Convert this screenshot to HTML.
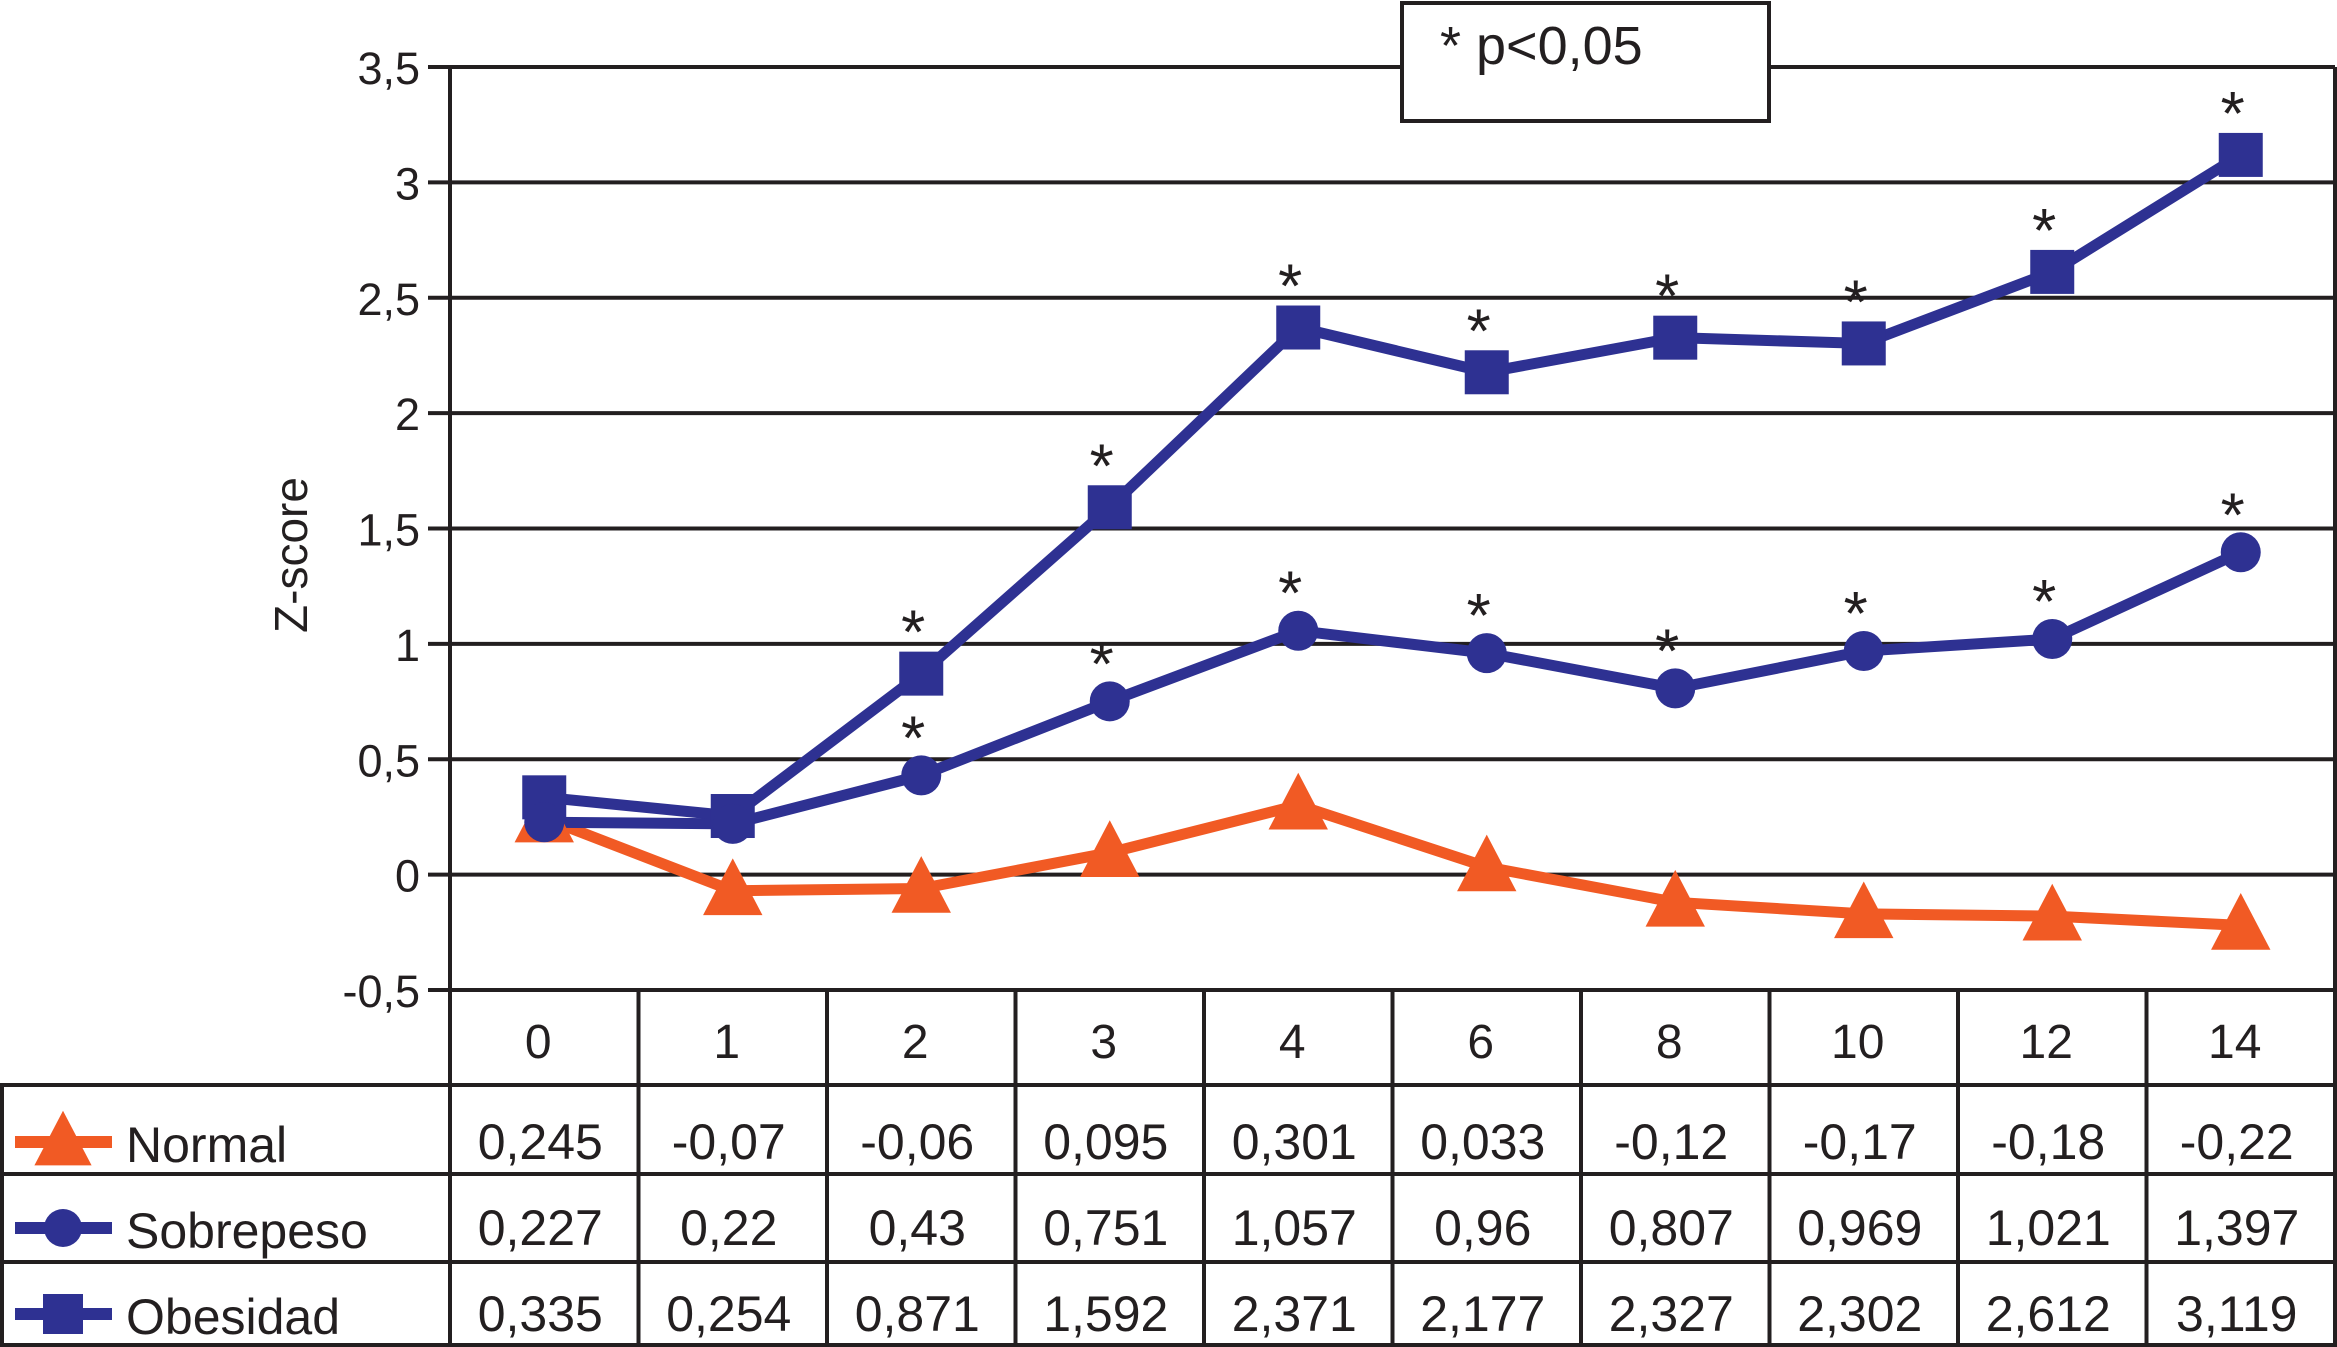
<!DOCTYPE html>
<html><head><meta charset="utf-8"><style>
html,body{margin:0;padding:0;background:#fff;}
svg{display:block;font-family:"Liberation Sans",sans-serif;}
</style></head><body>
<svg id="chart" width="2337" height="1347" viewBox="0 0 2337 1347"></svg>
<script>
const categories = ["0","1","2","3","4","6","8","10","12","14"];
const normalVals = [0.245,-0.07,-0.06,0.095,0.301,0.033,-0.12,-0.17,-0.18,-0.22];
const sobreVals = [0.227,0.22,0.43,0.751,1.057,0.96,0.807,0.969,1.021,1.397];
const obesVals = [0.335,0.254,0.871,1.592,2.371,2.177,2.327,2.302,2.612,3.119];
const normalLabels = ["0,245","-0,07","-0,06","0,095","0,301","0,033","-0,12","-0,17","-0,18","-0,22"];
const sobreLabels = ["0,227","0,22","0,43","0,751","1,057","0,96","0,807","0,969","1,021","1,397"];
const obesLabels = ["0,335","0,254","0,871","1,592","2,371","2,177","2,327","2,302","2,612","3,119"];
const sobreSig = [false,false,true,true,true,true,true,true,true,true];
const obesSig = [false,false,true,true,true,true,true,true,true,true];
const yTicks = [3.5,3,2.5,2,1.5,1,0.5,0,-0.5];
const yTickLabels = ["3,5","3","2,5","2","1,5","1","0,5","0","-0,5"];

const NS="http://www.w3.org/2000/svg";
const svg=document.getElementById('chart');
const X0=450, X1=2335, Y0=67, Y1=990;
const colW=(X1-X0)/categories.length;
function xPos(i){return X0+colW*(i+0.5);}
function yPos(v){return Y0+(3.5-v)/4*(Y1-Y0);}
function mk(tag,attrs,parent){const e=document.createElementNS(NS,tag);for(const k in attrs)e.setAttribute(k,attrs[k]);(parent||svg).appendChild(e);return e;}
const BLUE="#2e3192", ORANGE="#f15a24", K="#231f20";

yTicks.forEach((t,i)=>{
  const y=yPos(t);
  const g=mk('line',{x1:X0-22,x2:X1,y1:y,y2:y,stroke:K,'stroke-width':4});
  
  
  const tx=mk('text',{x:X0-30,y:y+17,'font-size':45,'text-anchor':'end',fill:K});
  tx.textContent=yTickLabels[i];
  
  
});
const ax=mk('line',{x1:X0,x2:X0,y1:Y0,y2:Y1,stroke:K,'stroke-width':4});


const ax2=mk('line',{x1:X1,x2:X1,y1:Y0,y2:1347,stroke:K,'stroke-width':4});



const yt=mk('text',{x:0,y:0,'font-size':46,'text-anchor':'middle',fill:K,transform:'translate(307,555) rotate(-90)'});
yt.textContent='Z-score';



const pb=mk('rect',{x:1402,y:3,width:367,height:118,fill:'#fff',stroke:K,'stroke-width':4});


const pt=mk('text',{x:1440,y:64,'font-size':54,fill:K});
pt.textContent='* p<0,05';



const rowsY=[990,1085,1174,1262,1345];
for(let r=1;r<rowsY.length;r++){
  const l=mk('line',{x1:0,x2:X1,y1:rowsY[r],y2:rowsY[r],stroke:K,'stroke-width':4});
  
  
}
const lb=mk('line',{x1:2,x2:2,y1:1085,y2:1347,stroke:K,'stroke-width':4});


for(let i=0;i<=categories.length;i++){
  const x=X0+colW*i;
  const l=mk('line',{x1:x,x2:x,y1:990,y2:1347,stroke:K,'stroke-width':4});
  
  
}
categories.forEach((c,i)=>{
  const t=mk('text',{x:xPos(i)-6,y:1058,'font-size':48,'text-anchor':'middle',fill:K});
  t.textContent=c;
  
  
});
const rowLabels=[normalLabels,sobreLabels,obesLabels];
const rowBase=[1159,1245,1331];
rowLabels.forEach((arr,r)=>{
  arr.forEach((s,i)=>{
    const t=mk('text',{x:xPos(i)-4,y:rowBase[r],'font-size':50,'text-anchor':'middle',fill:K});
    t.textContent=s;
    
    
  });
});

function triangle(cx,cy,s,parent){return mk('polygon',{points:`${cx},${cy-s*0.6} ${cx+s*0.55},${cy+s*0.45} ${cx-s*0.55},${cy+s*0.45}`,fill:ORANGE},parent);}
const names=["Normal","Sobrepeso","Obesidad"];
const legY=[1142,1228,1314];
names.forEach((n,r)=>{
  const g=mk('g',{});
  
  
  const col=r===0?ORANGE:BLUE;
  mk('line',{x1:15,x2:112,y1:legY[r],y2:legY[r],stroke:col,'stroke-width':12},g);
  if(r===0) triangle(63,legY[r],52,g);
  else if(r===1) mk('circle',{cx:63,cy:legY[r],r:19,fill:BLUE},g);
  else mk('rect',{x:43,y:legY[r]-20,width:40,height:40,fill:BLUE},g);
  const t=mk('text',{x:126,y:legY[r]+20,'font-size':50,fill:K},g);
  t.textContent=n;
});

function series(vals,col,name){
  const pts=vals.map((v,i)=>xPos(i)+','+yPos(v)).join(' ');
  const l=mk('polyline',{points:pts,fill:'none',stroke:col,'stroke-width':11,'stroke-linejoin':'round'});
  
  
}
series(normalVals,ORANGE,'normal');
series(obesVals,BLUE,'obesidad');
series(sobreVals,BLUE,'sobrepeso');
normalVals.forEach((v,i)=>{
  const p=triangle(xPos(i),yPos(v),54);
  
  
});
obesVals.forEach((v,i)=>{
  const p=mk('rect',{x:xPos(i)-22,y:yPos(v)-22,width:44,height:44,fill:BLUE});
  
  
  if(obesSig[i]){
    const t=mk('text',{x:xPos(i)-8,y:yPos(v)-20,'font-size':62,'text-anchor':'middle',fill:K});
    t.textContent='*';
    
    
  }
});
sobreVals.forEach((v,i)=>{
  const p=mk('circle',{cx:xPos(i),cy:yPos(v),r:20,fill:BLUE});
  
  
  if(sobreSig[i]){
    const t=mk('text',{x:xPos(i)-8,y:yPos(v)-16,'font-size':62,'text-anchor':'middle',fill:K});
    t.textContent='*';
    
    
  }
});
</script>
</body></html>
